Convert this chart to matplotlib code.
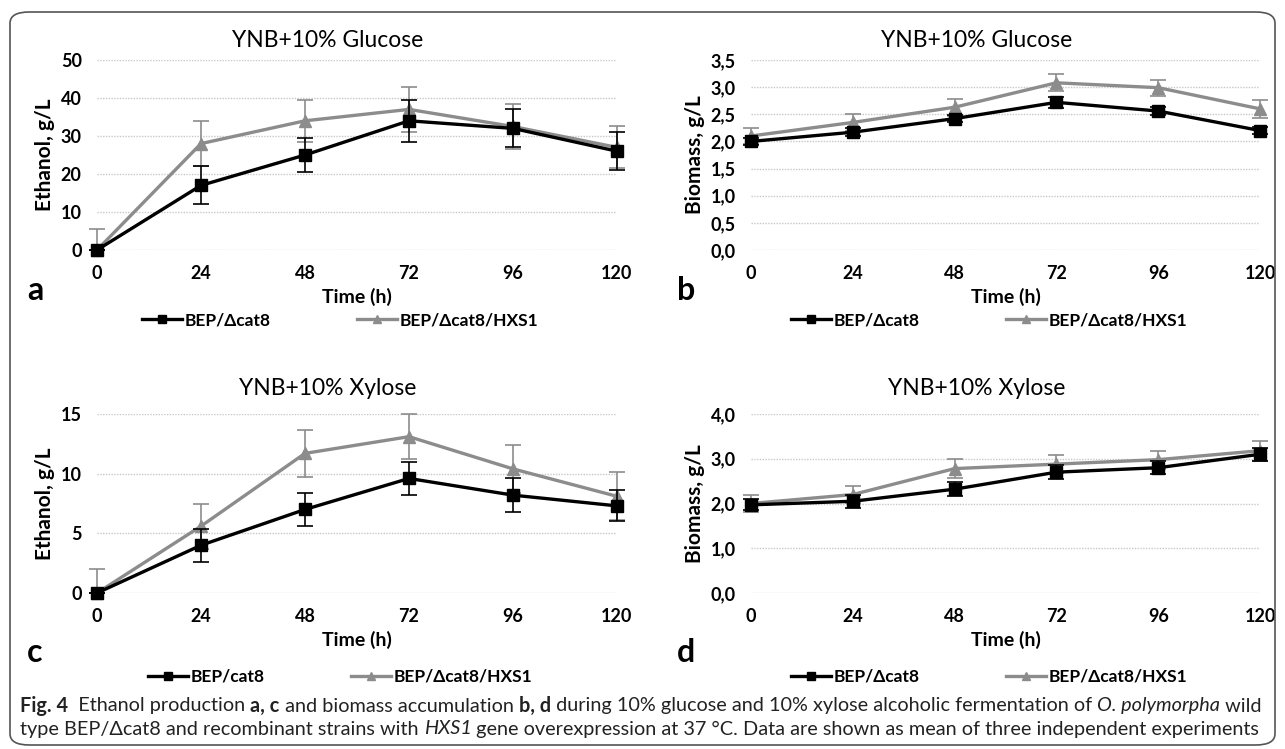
import matplotlib
matplotlib.use("Agg")
import matplotlib.pyplot as plt
from matplotlib.patches import FancyBboxPatch
from matplotlib.lines import Line2D
import numpy as np

plt.rcParams['font.family'] = ['Lato', 'DejaVu Sans']

time_h = [0, 24, 48, 72, 96, 120]

# a: ethanol, glucose
eth_glc_wt = [0, 17, 25, 34, 32, 26]
eth_glc_wt_err = [0, 5, 4.5, 5.5, 5, 5]
eth_glc_hxs = [0, 28, 34, 37, 32.5, 27]
eth_glc_hxs_err = [5.5, 6, 5.5, 6, 6, 5.5]

# b: biomass, glucose
bio_glc_wt = [2.0, 2.17, 2.42, 2.72, 2.56, 2.2]
bio_glc_wt_err = [0.06, 0.07, 0.07, 0.1, 0.08, 0.07]
bio_glc_hxs = [2.1, 2.35, 2.63, 3.08, 2.99, 2.6]
bio_glc_hxs_err = [0.14, 0.15, 0.16, 0.16, 0.15, 0.16]

# c: ethanol, xylose
eth_xyl_wt = [0, 4, 7, 9.6, 8.2, 7.3]
eth_xyl_wt_err = [0, 1.4, 1.4, 1.4, 1.4, 1.3]
eth_xyl_hxs = [0, 5.6, 11.7, 13.1, 10.4, 8.1]
eth_xyl_hxs_err = [2.0, 1.9, 2.0, 1.9, 2.0, 2.0]

# d: biomass, xylose
bio_xyl_wt = [1.97, 2.05, 2.32, 2.7, 2.8, 3.1]
bio_xyl_wt_err = [0.12, 0.15, 0.15, 0.15, 0.15, 0.15]
bio_xyl_hxs = [2.0, 2.2, 2.78, 2.88, 2.98, 3.18]
bio_xyl_hxs_err = [0.2, 0.18, 0.22, 0.2, 0.2, 0.22]

W, H = 1285, 749
fig = plt.figure(figsize=(W / 100, H / 100), dpi=100)

# outer rounded frame
frame = FancyBboxPatch((10 / W, 4 / H), 1 - 20 / W, 1 - 16 / H,
                       boxstyle="round,pad=0,rounding_size=0.015",
                       transform=fig.transFigure, fill=False,
                       edgecolor='#555555', linewidth=1.2)
fig.patches.append(frame)

BLACK = '#000000'
GRAY = '#8c8c8c'


def px_axes(x0, x1, y_top, y_bot):
    return fig.add_axes([x0 / W, 1 - y_bot / H, (x1 - x0) / W, (y_bot - y_top) / H])


def draw_series(ax, y, err, color, marker):
    y = np.array(y, dtype=float)
    err = np.array(err, dtype=float)
    lower = np.minimum(err, y)  # nothing drawn below zero
    ax.errorbar(time_h, y, yerr=[lower, err], color=color, marker=marker,
                markersize=8.5, linewidth=2.4, capsize=6, elinewidth=1.2,
                capthick=1.2, clip_on=False, zorder=4 if color == BLACK else 3)


def panel(ax, wt, wt_err, hxs, hxs_err, ymax, ystep, fmt, ylabel, title,
          title_pad, wt_label, letter, letter_xy, leg_xy):
    draw_series(ax, hxs, hxs_err, GRAY, '^')
    draw_series(ax, wt, wt_err, BLACK, 's')
    ax.set_xlim(0, 120)
    ax.set_ylim(0, ymax)
    ax.set_xticks(time_h)
    yt = np.arange(0, ymax + ystep / 2, ystep)
    ax.set_yticks(yt)
    ax.set_yticklabels([fmt(v) for v in yt])
    for s in ax.spines.values():
        s.set_visible(False)
    ax.tick_params(length=0, labelsize=13)
    ax.tick_params(axis='x', pad=11)
    ax.tick_params(axis='y', pad=11)
    for lab in ax.get_xticklabels() + ax.get_yticklabels():
        lab.set_fontweight('bold')
    ax.grid(axis='y', color='#c8c8c8', linestyle=(0, (1, 1)), linewidth=1)
    ax.grid(axis='x', visible=False)
    ax.set_axisbelow(True)
    ax.set_title(title, fontsize=16.5, pad=title_pad, x=0.444)
    ax.set_xlabel('Time (h)', fontsize=14, fontweight='bold', labelpad=4)
    ax.set_ylabel(ylabel, fontsize=15, fontweight='bold', labelpad=4)
    fig.text(letter_xy[0] / W, 1 - letter_xy[1] / H, letter, fontsize=23,
             fontweight='bold', va='center', ha='center')
    handles = [Line2D([], [], color=BLACK, marker='s', markersize=6, linewidth=2.4),
               Line2D([], [], color=GRAY, marker='^', markersize=6, linewidth=2.4)]
    leg = fig.legend(handles, [wt_label, 'BEP/\u0394cat8/HXS1'], ncol=2, frameon=False,
                     loc='center', bbox_to_anchor=(leg_xy[0] / W, 1 - leg_xy[1] / H),
                     fontsize=12.5, columnspacing=5.0, handlelength=2.3,
                     handletextpad=0.15, borderpad=0, borderaxespad=0)
    for t in leg.get_texts():
        t.set_fontweight('bold')


def comma1(v):
    return f'{v:.1f}'.replace('.', ',')


def intfmt(v):
    return f'{int(round(v))}'


ax_a = px_axes(97, 617, 60, 250)
panel(ax_a, eth_glc_wt, eth_glc_wt_err, eth_glc_hxs, eth_glc_hxs_err, 50, 10, intfmt,
      'Ethanol, g/L', 'YNB+10% Glucose', 9.5, 'BEP/\u0394cat8', 'a', (35, 290), (340, 320))

ax_b = px_axes(751, 1260, 60, 250)
panel(ax_b, bio_glc_wt, bio_glc_wt_err, bio_glc_hxs, bio_glc_hxs_err, 3.5, 0.5, comma1,
      'Biomass, g/L', 'YNB+10% Glucose', 9.5, 'BEP/\u0394cat8', 'b', (686, 290), (989, 320))

ax_c = px_axes(97, 617, 414, 593)
panel(ax_c, eth_xyl_wt, eth_xyl_wt_err, eth_xyl_hxs, eth_xyl_hxs_err, 15, 5, intfmt,
      'Ethanol, g/L', 'YNB+10% Xylose', 13.5, 'BEP/cat8', 'c', (35, 652), (340, 677))

ax_d = px_axes(751, 1260, 414, 593)
panel(ax_d, bio_xyl_wt, bio_xyl_wt_err, bio_xyl_hxs, bio_xyl_hxs_err, 4.0, 1.0, comma1,
      'Biomass, g/L', 'YNB+10% Xylose', 13.5, 'BEP/\u0394cat8', 'd', (686, 652), (989, 677))

# caption with mixed styles
line1 = [('Fig. 4', 'bold', 'normal'), ('  Ethanol production ', 'normal', 'normal'),
         ('a, c', 'bold', 'normal'), (' and biomass accumulation ', 'normal', 'normal'),
         ('b, d', 'bold', 'normal'),
         (' during 10% glucose and 10% xylose alcoholic fermentation of ', 'normal', 'normal'),
         ('O. polymorpha', 'normal', 'italic'), (' wild', 'normal', 'normal')]
line2 = [('type BEP/\u0394cat8 and recombinant strains with ', 'normal', 'normal'),
         ('HXS1', 'normal', 'italic'),
         (' gene overexpression at 37 \u00b0C. Data are shown as mean of three independent experiments',
          'normal', 'normal')]

fig.canvas.draw()
renderer = fig.canvas.get_renderer()


def draw_runs(runs, x_px, y_px, size):
    x = x_px
    for txt, wgt, sty in runs:
        t = fig.text(x / W, 1 - y_px / H, txt, fontsize=size, fontweight=wgt,
                     fontstyle=sty, va='center', ha='left', color='#222222')
        x += t.get_window_extent(renderer=renderer).width
    return x - x_px


# fit caption line 1 to the frame width
probe = [fig.text(0, 0, txt, fontsize=12, fontweight=w, fontstyle=s) for txt, w, s in line1]
wid = sum(p.get_window_extent(renderer=renderer).width for p in probe)
for p in probe:
    p.remove()
cap_size = 12 * (1262 - 20) / wid

draw_runs(line1, 20, 706, cap_size)
draw_runs(line2, 20, 729, cap_size)

fig.savefig('out.png', dpi=100)
